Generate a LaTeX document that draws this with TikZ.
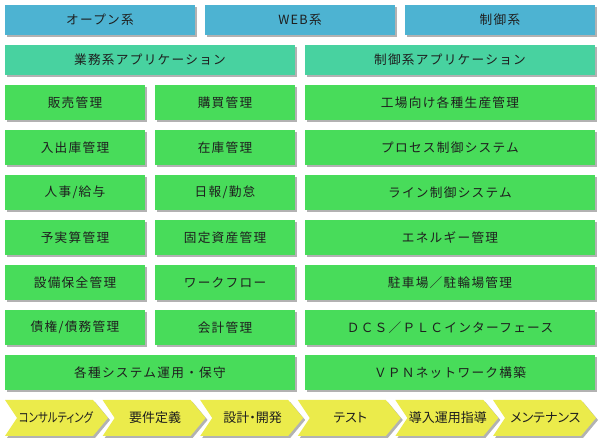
\documentclass[tikz,border=0pt]{standalone}
\usepackage{fontspec}
\usepackage{xcolor}
\usepackage{tikz}
\usetikzlibrary{shadows}

\newfontfamily\jpbox[LetterSpace=10]{Noto Sans CJK JP}
\newfontfamily\jpchev[RawFeature=+palt]{Noto Sans CJK JP}
\newfontfamily\jpnarrow[RawFeature=+palt,FakeStretch=0.8]{Noto Sans CJK JP}

\definecolor{catblue}{HTML}{4DB3D2}
\definecolor{appteal}{HTML}{48D2A0}
\definecolor{fngreen}{HTML}{48DC5A}
\definecolor{stepyellow}{HTML}{EBEB4B}
\definecolor{txt}{HTML}{1E1E1E}

\begin{document}
\begin{tikzpicture}[
    x=0.75pt, y=-0.75pt,
    % --- node styles -------------------------------------------------
    shade/.style={
        drop shadow={shadow xshift=1.5pt, shadow yshift=-1.5pt,
                     fill=black!30, opacity=1}
    },
    box/.style={
        draw=none, inner sep=0pt, text=txt, shade,
        font=\jpbox\fontsize{9.5pt}{11pt}\selectfont
    },
    cat/.style={box, fill=catblue, minimum width=190*0.75pt, minimum height=30*0.75pt},
    app/.style={box, fill=appteal, minimum width=290*0.75pt, minimum height=30*0.75pt},
    half/.style={box, fill=fngreen, minimum width=140*0.75pt, minimum height=35*0.75pt},
    full/.style={box, fill=fngreen, minimum width=290*0.75pt, minimum height=35*0.75pt},
    chevron/.style={fill=stepyellow, draw=none, shade},
    phase/.style={inner sep=0pt, text=txt,
        font=\jpchev\fontsize{9.75pt}{11pt}\selectfont}
]
\useasboundingbox (0,0) rectangle (603,448);

% --- categories --------------------------------------------------
\node[cat] (open) at (100,20) {オープン系};
\node[cat] (web)  at (300,20) {WEB系};
\node[cat] (ctrl) at (500,20) {制御系};

% --- applications ------------------------------------------------
\node[app] (bizapp)  at (150,60) {業務系アプリケーション};
\node[app] (ctrlapp) at (450,60) {制御系アプリケーション};

% --- business functions ------------------------------------------
\node[half] (sales)    at (75,102.5)  {販売管理};
\node[half] (purchase) at (225,102.5) {購買管理};
\node[half] (inout)    at (75,147.5)  {入出庫管理};
\node[half] (stock)    at (225,147.5) {在庫管理};
\node[half] (hr)       at (75,192.5)  {人事/給与};
\node[half] (daily)    at (225,192.5) {日報/勤怠};
\node[half] (budget)   at (75,237.5)  {予実算管理};
\node[half] (assets)   at (225,237.5) {固定資産管理};
\node[half] (maint)    at (75,282.5)  {設備保全管理};
\node[half] (flow)     at (225,282.5) {ワークフロー};
\node[half] (debt)     at (75,327.5)  {債権/債務管理};
\node[half] (account)  at (225,327.5) {会計管理};
\node[full] (ops)      at (150,372.5) {各種システム運用・保守};

% --- control functions -------------------------------------------
\node[full] (factory) at (450,102.5) {工場向け各種生産管理};
\node[full] (process) at (450,147.5) {プロセス制御システム};
\node[full] (line)    at (450,192.5) {ライン制御システム};
\node[full] (energy)  at (450,237.5) {エネルギー管理};
\node[full] (parking) at (450,282.5) {駐車場／駐輪場管理};
\node[full] (dcs)     at (450,327.5) {ＤＣＳ／ＰＬＣインターフェース};
\node[full] (vpn)     at (450,372.5) {ＶＰＮネットワーク構築};

% --- service phases (chevrons) -----------------------------------
\path[chevron] (5,400) -- ++(88,0) -- ++(15,18) -- ++(-15,18) -- ++(-88,0) -- ++(12,-18) -- cycle;
\path[chevron] (102.6,400) -- ++(88,0) -- ++(15,18) -- ++(-15,18) -- ++(-88,0) -- ++(12,-18) -- cycle;
\path[chevron] (200.2,400) -- ++(88,0) -- ++(15,18) -- ++(-15,18) -- ++(-88,0) -- ++(12,-18) -- cycle;
\path[chevron] (297.8,400) -- ++(88,0) -- ++(15,18) -- ++(-15,18) -- ++(-88,0) -- ++(12,-18) -- cycle;
\path[chevron] (395.4,400) -- ++(88,0) -- ++(15,18) -- ++(-15,18) -- ++(-88,0) -- ++(12,-18) -- cycle;
\path[chevron] (493,400) -- ++(88,0) -- ++(15,18) -- ++(-15,18) -- ++(-88,0) -- ++(12,-18) -- cycle;

\node[phase, font=\jpnarrow\fontsize{9.75pt}{11pt}\selectfont] (consult) at (56,418) {コンサルティング};
\node[phase] (req)     at (155,418)   {要件定義};
\node[phase] (design)  at (252.6,418) {設計・開発};
\node[phase] (test)    at (350.2,418) {テスト};
\node[phase] (intro)   at (447.8,418) {導入運用指導};
\node[phase] (mainten) at (545.4,418) {メンテナンス};

\end{tikzpicture}
\end{document}
